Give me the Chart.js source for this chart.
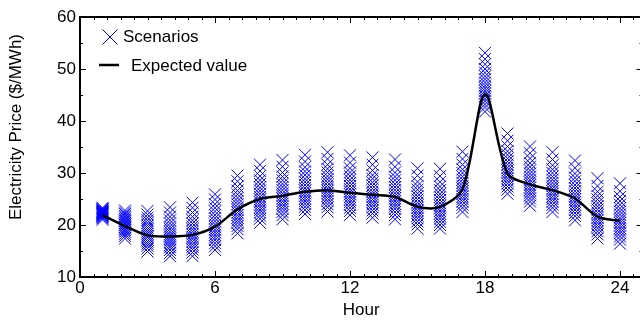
<!DOCTYPE html>
<html><head><meta charset="utf-8">
<script src="https://cdn.jsdelivr.net/npm/chart.js@4.4.1/dist/chart.umd.min.js"></script>
<style>
html,body{margin:0;padding:0;overflow:hidden;background:#fff;width:640px;height:327px}
#wrap{width:660px;height:327px;position:relative}
</style></head>
<body><div id="wrap"><canvas id="c" width="660" height="327"></canvas></div>
<script>
const hours = [1,2,3,4,5,6,7,8,9,10,11,12,13,14,15,16,17,18,19,20,21,22,23,24];
const expectedValue = [21.9,19.8,18.0,17.8,18.1,19.7,23.0,25.0,25.6,26.4,26.7,26.2,25.8,25.4,23.5,23.5,26.9,45.2,29.9,27.8,26.7,25.1,21.6,20.8];
const scenarioByHour = [
 [21.0,21.3,21.5,21.6,21.8,21.9,22.0,22.1,22.2,22.3,22.4,22.5,22.6,22.7,22.8,23.0,23.1,23.3],
 [17.4,17.9,18.3,18.7,19.0,19.3,19.6,19.9,20.1,20.4,20.7,20.9,21.2,21.5,21.8,22.1,22.4,22.8],
 [14.9,15.5,16.0,16.4,16.8,17.2,17.6,17.9,18.3,18.7,19.1,19.5,19.9,20.4,20.9,21.4,22.0,22.7],
 [14.0,14.6,15.2,15.7,16.1,16.6,17.0,17.4,17.8,18.2,18.7,19.2,19.7,20.3,20.9,21.6,22.4,23.4],
 [14.0,14.7,15.3,15.8,16.3,16.8,17.3,17.7,18.2,18.7,19.2,19.7,20.3,20.9,21.6,22.4,23.3,24.3],
 [15.2,15.9,16.5,17.1,17.6,18.1,18.6,19.1,19.6,20.1,20.7,21.3,21.9,22.6,23.3,24.0,24.9,25.9],
 [18.4,19.2,19.8,20.4,20.9,21.4,21.9,22.4,22.9,23.4,24.0,24.6,25.2,25.9,26.6,27.4,28.4,29.5],
 [20.4,21.2,21.8,22.4,22.9,23.4,23.9,24.4,24.9,25.4,26.0,26.6,27.2,27.9,28.6,29.4,30.4,31.6],
 [21.1,21.9,22.5,23.1,23.6,24.1,24.6,25.1,25.6,26.1,26.7,27.3,27.9,28.6,29.3,30.1,31.2,32.5],
 [22.1,22.9,23.5,24.1,24.6,25.1,25.6,26.1,26.6,27.1,27.7,28.3,28.9,29.6,30.3,31.1,32.2,33.5],
 [22.6,23.4,24.0,24.6,25.1,25.6,26.1,26.6,27.1,27.6,28.2,28.8,29.4,30.1,30.8,31.6,32.7,34.0],
 [21.9,22.7,23.3,23.9,24.4,24.9,25.4,25.9,26.4,26.9,27.5,28.1,28.7,29.4,30.1,30.9,32.0,33.4],
 [21.4,22.2,22.8,23.4,23.9,24.4,24.9,25.4,25.9,26.4,27.0,27.6,28.2,28.9,29.6,30.5,31.6,33.0],
 [21.1,21.9,22.5,23.1,23.6,24.1,24.6,25.1,25.6,26.1,26.7,27.3,27.9,28.6,29.3,30.1,31.2,32.6],
 [19.3,20.1,20.7,21.3,21.8,22.3,22.8,23.3,23.8,24.3,24.9,25.5,26.1,26.8,27.5,28.3,29.5,30.9],
 [19.3,20.0,20.6,21.2,21.7,22.2,22.7,23.2,23.7,24.2,24.8,25.4,26.0,26.7,27.4,28.3,29.4,30.8],
 [22.5,23.3,23.9,24.5,25.0,25.5,26.0,26.5,27.0,27.5,28.1,28.7,29.3,30.0,30.7,31.6,32.7,34.1],
 [41.8,42.6,43.2,43.8,44.3,44.8,45.3,45.8,46.3,46.8,47.4,48.0,48.6,49.3,50.0,50.9,51.9,53.1],
 [26.0,26.8,27.4,28.0,28.5,29.0,29.5,30.0,30.5,31.0,31.6,32.2,32.8,33.5,34.2,35.1,36.2,37.6],
 [23.7,24.5,25.1,25.7,26.2,26.7,27.2,27.7,28.2,28.7,29.3,29.9,30.5,31.2,31.9,32.8,33.8,35.1],
 [22.5,23.3,23.9,24.5,25.0,25.5,26.0,26.5,27.0,27.5,28.1,28.7,29.3,30.0,30.7,31.5,32.6,34.0],
 [20.9,21.7,22.3,22.9,23.4,23.9,24.4,24.9,25.4,25.9,26.5,27.1,27.7,28.4,29.1,29.9,31.0,32.4],
 [17.4,18.2,18.8,19.4,19.9,20.4,20.9,21.4,21.9,22.4,23.0,23.6,24.2,24.9,25.6,26.4,27.5,29.0],
 [16.4,17.2,17.8,18.4,18.9,19.4,19.9,20.4,20.9,21.4,22.0,22.6,23.2,23.9,24.6,25.4,26.5,28.0]
];
const xTickLabels = [0,6,12,18,24];
const yTickLabels = [10,20,30,40,50,60];
const seriesNames = ['Scenarios','Expected value'];
const xTitle = 'Hour';
const yTitle = 'Electricity Price ($/MWh)';

const FONT = 'Liberation Sans, Arial, Helvetica, sans-serif';
const BLUE = '#0000ff';

const scenarioPoints = [];
hours.forEach((h, i) => scenarioByHour[i].forEach(v => scenarioPoints.push({x: h, y: v})));
const expectedPoints = hours.map((h, i) => ({x: h, y: expectedValue[i]}));

const framePlugin = {
  id: 'frame',
  afterDraw(chart) {
    const {ctx, chartArea: a, scales: {x, y}} = chart;
    ctx.save();
    ctx.strokeStyle = '#000';
    ctx.lineWidth = 1;
    ctx.beginPath();
    for (let i = 0; i * 0.6 <= x.max + 1e-9; i++) {
      const px = Math.round(x.getPixelForValue(i * 0.6)) + 0.5;
      const len = (i % 10 === 0) ? 6 : 3;
      ctx.moveTo(px, a.bottom); ctx.lineTo(px, a.bottom - len);
      ctx.moveTo(px, a.top); ctx.lineTo(px, a.top + len);
    }
    for (let v = y.min; v <= y.max + 1e-9; v += 5) {
      const py = Math.round(y.getPixelForValue(v)) + 0.5;
      const len = (Math.round(v) % 10 === 0) ? 6 : 3;
      ctx.moveTo(a.left, py); ctx.lineTo(a.left + len, py);
      ctx.moveTo(a.right, py); ctx.lineTo(a.right - len, py);
    }
    ctx.stroke();
    ctx.lineWidth = 2;
    ctx.strokeRect(a.left, a.top, a.right - a.left, a.bottom - a.top);

    ctx.fillStyle = '#000';
    ctx.font = '17px ' + FONT;
    ctx.textAlign = 'center';
    ctx.textBaseline = 'middle';
    ctx.save();
    ctx.translate(16, 127);
    ctx.rotate(-Math.PI / 2);
    ctx.fillText(yTitle, 0, 0);
    ctx.restore();

    ctx.strokeStyle = BLUE;
    ctx.lineWidth = 1;
    const lx = 110, ly = 37, r = 7.5;
    ctx.beginPath();
    ctx.moveTo(lx - r, ly - r); ctx.lineTo(lx + r, ly + r);
    ctx.moveTo(lx + r, ly - r); ctx.lineTo(lx - r, ly + r);
    ctx.stroke();
    ctx.strokeStyle = '#000';
    ctx.lineWidth = 2.5;
    ctx.beginPath();
    ctx.moveTo(99, 65); ctx.lineTo(119, 65);
    ctx.stroke();
    ctx.textAlign = 'left';
    ctx.fillText(seriesNames[0], 123, 37);
    ctx.fillText(seriesNames[1], 131, 66);
    ctx.restore();
  }
};

new Chart(document.getElementById('c'), {
  type: 'scatter',
  data: {
    datasets: [
      {
        type: 'line', order: 0,
        label: seriesNames[1], data: expectedPoints,
        borderColor: '#000000', backgroundColor: '#000000', borderWidth: 2.5,
        pointRadius: 0, pointHoverRadius: 0, pointHitRadius: 0, tension: 0.3,
        fill: false
      },
      {
        type: 'scatter', order: 1,
        label: seriesNames[0], data: scenarioPoints, pointStyle: 'crossRot',
        pointRadius: 8.5, pointHoverRadius: 8.5, pointBorderColor: BLUE, pointBackgroundColor: BLUE,
        pointBorderWidth: 1, borderColor: BLUE, backgroundColor: BLUE
      }
    ]
  },
  options: {
    responsive: false, animation: false, events: [],
    layout: {padding: {top: 17, right: 17.5, bottom: 0, left: 0}},
    plugins: {legend: {display: false}, tooltip: {enabled: false}},
    scales: {
      x: {
        type: 'linear', min: 0, max: 25,
        afterBuildTicks: s => { s.ticks = xTickLabels.map(v => ({value: v})); },
        afterFit: s => { s.height = 50; },
        grid: {display: false, drawTicks: false}, border: {display: false},
        ticks: {padding: 1, color: '#000', font: {family: FONT, size: 17}, maxRotation: 0},
        title: {display: true, text: xTitle, color: '#000', font: {family: FONT, size: 17}, padding: {top: 0, bottom: 6}}
      },
      y: {
        type: 'linear', min: 10, max: 60,
        afterBuildTicks: s => { s.ticks = yTickLabels.map(v => ({value: v})); },
        afterFit: s => { s.width = 80; },
        grid: {display: false, drawTicks: false}, border: {display: false},
        ticks: {padding: 4, color: '#000', font: {family: FONT, size: 17}}
      }
    }
  },
  plugins: [framePlugin]
});
</script></body></html>
